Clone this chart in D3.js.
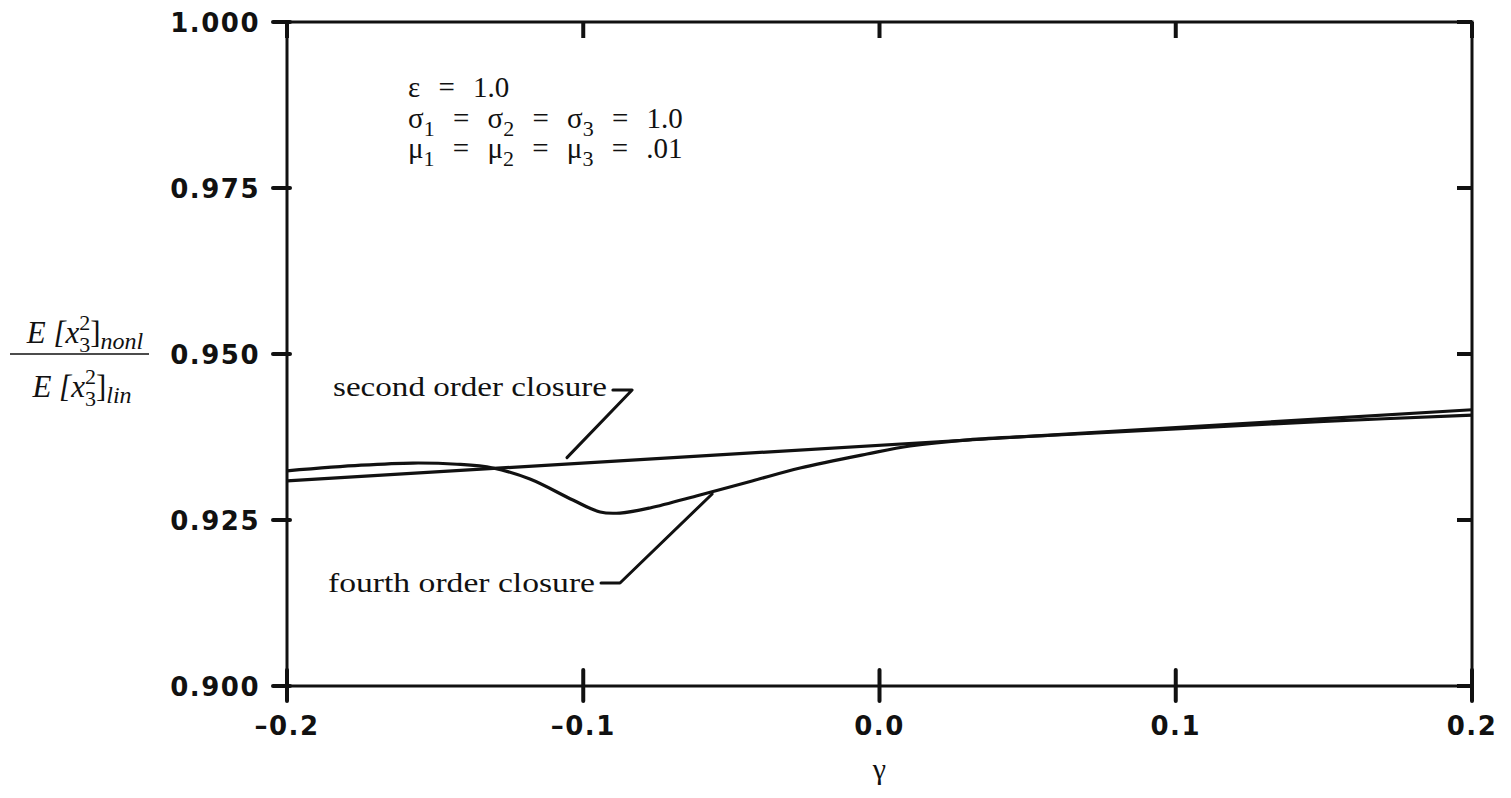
<!DOCTYPE html>
<html>
<head>
<meta charset="utf-8">
<script src="https://cdn.jsdelivr.net/npm/d3@7"></script>
<style>
  html, body { margin: 0; padding: 0; background: #fff; }
  svg { display: block; }
  .tick-label { font-family: "DejaVu Sans", sans-serif; font-weight: bold; font-size: 26px; letter-spacing: 1.5px; fill: #111; }
  .serif { font-family: "Liberation Serif", "Times New Roman", serif; fill: #111; }
</style>
</head>
<body>
<svg id="chart" width="1511" height="798"></svg>
<script>
// ---- data ----
const xTicks = [-0.2, -0.1, 0.0, 0.1, 0.2];
const xTickLabels = ["-0.2", "-0.1", "0.0", "0.1", "0.2"];
const yTicks = [0.900, 0.925, 0.950, 0.975, 1.000];
const yTickLabels = ["0.900", "0.925", "0.950", "0.975", "1.000"];

const secondGamma = [-0.2, 0.2];
const secondValue = [0.9309, 0.9416];

const fourthGamma = [-0.2, -0.175, -0.1575, -0.1426, -0.1305, -0.118, -0.1035, -0.0943, -0.0876, -0.0775, -0.0606, -0.0430, -0.0268, -0.0042, 0.0103, 0.030, 0.060, 0.100, 0.150, 0.200];
const fourthValue = [0.9324, 0.93325, 0.93358, 0.9334, 0.93283, 0.93117, 0.92801, 0.92620, 0.92605, 0.92681, 0.92877, 0.93088, 0.93283, 0.93494, 0.93615, 0.93708, 0.93780, 0.93873, 0.93985, 0.94080];

// annotation anchors in data units: [gamma, value]
const secondLeader = [[-0.1055, 0.9344], [-0.0835, 0.94458], [-0.0900, 0.94458]];
const fourthLeader = [[-0.0565, 0.92892], [-0.0876, 0.91551], [-0.0940, 0.91551]];

// ---- layout ----
const W = 1511, H = 798;
const m = { left: 287, right: 39, top: 22, bottom: 112 };
const svg = d3.select("#chart");
const x = d3.scaleLinear().domain([-0.2, 0.2]).range([m.left, W - m.right]);
const y = d3.scaleLinear().domain([0.9, 1.0]).range([H - m.bottom, m.top]);
const ink = "#111";

// frame
svg.append("rect")
  .attr("x", x(-0.2)).attr("y", y(1.0))
  .attr("width", x(0.2) - x(-0.2)).attr("height", y(0.9) - y(1.0))
  .attr("fill", "none").attr("stroke", ink).attr("stroke-width", 3);

// bottom axis ticks (crossing) and labels
const gx = svg.append("g");
gx.selectAll("line.bt").data(xTicks).join("line")
  .attr("x1", d => x(d)).attr("x2", d => x(d))
  .attr("y1", y(0.9) - 16).attr("y2", y(0.9) + 15)
  .attr("stroke", ink).attr("stroke-width", 4).attr("stroke-linecap", "round");
gx.selectAll("line.tt").data(xTicks).join("line")
  .attr("x1", d => x(d)).attr("x2", d => x(d))
  .attr("y1", y(1.0)).attr("y2", y(1.0) + 16)
  .attr("stroke", ink).attr("stroke-width", 4);
gx.selectAll("text").data(xTicks).join("text")
  .attr("class", "tick-label")
  .attr("x", d => x(d)).attr("y", y(0.9) + 49)
  .attr("text-anchor", "middle")
  .text((d, i) => xTickLabels[i].replace("-", "\u2013"));

// left and right ticks
const gy = svg.append("g");
gy.selectAll("line.lt").data(yTicks).join("line")
  .attr("x1", x(-0.2) - 14).attr("x2", x(-0.2) + 3)
  .attr("y1", d => y(d)).attr("y2", d => y(d))
  .attr("stroke", ink).attr("stroke-width", 4).attr("stroke-linecap", "round");
gy.selectAll("line.rt").data(yTicks).join("line")
  .attr("x1", x(0.2) - 15).attr("x2", x(0.2))
  .attr("y1", d => y(d)).attr("y2", d => y(d))
  .attr("stroke", ink).attr("stroke-width", 4);
gy.selectAll("text").data(yTicks).join("text")
  .attr("class", "tick-label")
  .attr("x", x(-0.2) - 27).attr("y", d => y(d) + 10)
  .attr("text-anchor", "end")
  .text((d, i) => yTickLabels[i]);

// curves
const line = d3.line().x(d => x(d[0])).y(d => y(d[1])).curve(d3.curveMonotoneX);
svg.append("path")
  .datum(secondGamma.map((g, i) => [g, secondValue[i]]))
  .attr("d", line).attr("fill", "none").attr("stroke", ink).attr("stroke-width", 3.2);
svg.append("path")
  .datum(fourthGamma.map((g, i) => [g, fourthValue[i]]))
  .attr("d", d3.line().x(d => x(d[0])).y(d => y(d[1])).curve(d3.curveCatmullRom.alpha(0.5)))
  .attr("fill", "none").attr("stroke", ink).attr("stroke-width", 3.2);

// leaders
const leader = d3.line().x(d => x(d[0])).y(d => y(d[1]));
[secondLeader, fourthLeader].forEach(pts => {
  svg.append("path").attr("d", leader(pts))
    .attr("fill", "none").attr("stroke", ink).attr("stroke-width", 3)
    .attr("stroke-linecap", "round").attr("stroke-linejoin", "round");
});

// annotation labels
svg.append("text").attr("class", "serif")
  .attr("x", 333).attr("y", 396).attr("font-size", 28)
  .attr("textLength", 274).attr("lengthAdjust", "spacingAndGlyphs")
  .text("second order closure");
svg.append("text").attr("class", "serif")
  .attr("x", 328).attr("y", 592).attr("font-size", 28)
  .attr("textLength", 267).attr("lengthAdjust", "spacingAndGlyphs")
  .text("fourth order closure");

// parameter block
const params = svg.append("g").attr("class", "serif").attr("font-size", 29).attr("word-spacing", 11);
const p1 = params.append("text").attr("x", 408).attr("y", 97);
p1.append("tspan").text("\u03b5 = 1.0");
const p2 = params.append("text").attr("x", 408).attr("y", 128);
[["\u03c3", "1", " = "], ["\u03c3", "2", " = "], ["\u03c3", "3", " = 1.0"]].forEach(([s, sub, rest]) => {
  p2.append("tspan").text(s);
  p2.append("tspan").attr("dy", 8).attr("font-size", 22).text(sub);
  p2.append("tspan").attr("dy", -8).text(rest);
});
const p3 = params.append("text").attr("x", 408).attr("y", 158);
[["\u03bc", "1", " = "], ["\u03bc", "2", " = "], ["\u03bc", "3", " = .01"]].forEach(([s, sub, rest]) => {
  p3.append("tspan").text(s);
  p3.append("tspan").attr("dy", 8).attr("font-size", 22).text(sub);
  p3.append("tspan").attr("dy", -8).text(rest);
});

// y-axis title (fraction)
const yt = svg.append("g").attr("class", "serif").attr("font-style", "italic").attr("font-size", 31);
const num = yt.append("text").attr("x", 85).attr("y", 343).attr("text-anchor", "middle");
num.append("tspan").text("E [x");
num.append("tspan").attr("font-size", 22).attr("dy", -13).attr("font-style", "normal").text("2");
num.append("tspan").attr("font-size", 22).attr("dx", -11).attr("dy", 22).attr("font-style", "normal").text("3");
num.append("tspan").attr("dy", -9).attr("font-style", "normal").text("]");
num.append("tspan").attr("font-size", 24).attr("dy", 6).text("nonl");
yt.append("line").attr("x1", 10).attr("x2", 149).attr("y1", 354).attr("y2", 354)
  .attr("stroke", ink).attr("stroke-width", 1.6);
const den = yt.append("text").attr("x", 82).attr("y", 397).attr("text-anchor", "middle");
den.append("tspan").text("E [x");
den.append("tspan").attr("font-size", 22).attr("dy", -13).attr("font-style", "normal").text("2");
den.append("tspan").attr("font-size", 22).attr("dx", -11).attr("dy", 22).attr("font-style", "normal").text("3");
den.append("tspan").attr("dy", -9).attr("font-style", "normal").text("]");
den.append("tspan").attr("font-size", 24).attr("dy", 6).text("lin");

// x-axis title
svg.append("text").attr("class", "serif")
  .attr("x", x(0)).attr("y", 779).attr("text-anchor", "middle").attr("font-size", 30)
  .text("\u03b3");
</script>
</body>
</html>
